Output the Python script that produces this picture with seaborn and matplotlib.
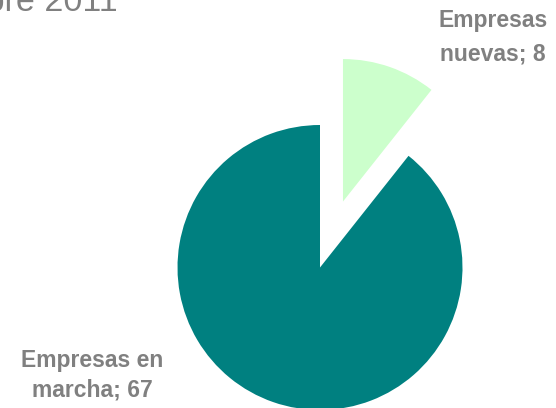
import matplotlib
matplotlib.use("Agg")
import matplotlib.pyplot as plt
import seaborn as sns

# Data
categorias = ["Empresas nuevas", "Empresas en marcha"]
valores = [8, 67]
colores = ["#CCFFCC", "#008080"]
explode = [0.49, 0.0]
titulo = "Empresas atendidas a diciembre 2011"

sns.set_theme(style="white")
plt.rcParams["font.family"] = ["Liberation Sans", "DejaVu Sans"]

W, H = 556, 408
fig = plt.figure(figsize=(W / 100, H / 100), dpi=100)
ax = fig.add_axes([0, 0, 1, 1])

# pie centre at (320, 267.5) px, radius 142.5 px
r_px = 142.5
cx, cy = 320, 267.5
ax.pie(valores, colors=colores, explode=explode, startangle=90,
       counterclock=False, radius=1,
       wedgeprops=dict(linewidth=0))
ax.set_xlim(-cx / r_px, (W - cx) / r_px)
ax.set_ylim(-(H - cy) / r_px, cy / r_px)
ax.set_aspect("auto")
ax.axis("off")

gris = "#808080"
# title, cut off by the top/left edges like the source
fig.text(118 / W, (H - 11) / H, titulo, ha="right", va="baseline",
         fontsize=24.5, color=gris)

# data labels: two lines each, "Empresas" / "<rest>; value"
textos = [["Empresas", "nuevas; {}".format(valores[0])],
          ["Empresas en", "marcha; {}".format(valores[1])]]
centros_x = [493, 92.5]
bases_y = [[27, 60], [367, 397]]
for lineas, x, ys in zip(textos, centros_x, bases_y):
    for linea, y in zip(lineas, ys):
        fig.text(x / W, (H - y) / H, linea, ha="center", va="baseline",
                 fontsize=16.5, fontweight="bold", color=gris)

fig.savefig("out.png", dpi=100)
